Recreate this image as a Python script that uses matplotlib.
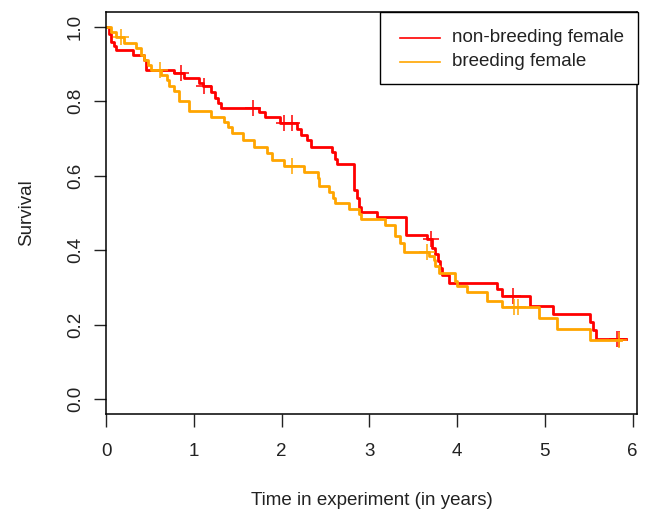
import matplotlib
matplotlib.use("Agg")
import matplotlib.pyplot as plt
from matplotlib.patches import Rectangle
from matplotlib.lines import Line2D
import numpy as np

plt.rcParams['font.family'] = ['Liberation Sans', 'DejaVu Sans']

# non-breeding female: event times (years) and survival after each step
nb_time = [0.03, 0.06, 0.09, 0.11, 0.31, 0.43, 0.46, 0.77, 0.89, 1.06, 1.10,
           1.20, 1.24, 1.28, 1.31, 1.74, 1.81, 1.98, 2.18, 2.22, 2.29, 2.34,
           2.57, 2.61, 2.63, 2.82, 2.83, 2.86, 2.88, 2.91, 3.09, 3.42, 3.66,
           3.71, 3.75, 3.78, 3.81, 3.83, 3.91, 4.46, 4.51, 4.83, 5.09, 5.52,
           5.55, 5.58]
nb_surv = [0.98, 0.96, 0.95, 0.938, 0.925, 0.91, 0.885, 0.876, 0.863, 0.85, 0.84,
           0.826, 0.81, 0.796, 0.783, 0.772, 0.759, 0.742, 0.727, 0.71, 0.697, 0.678,
           0.663, 0.645, 0.632, 0.582, 0.563, 0.54, 0.515, 0.502, 0.49, 0.44, 0.43,
           0.407, 0.389, 0.37, 0.352, 0.333, 0.311, 0.295, 0.277, 0.25, 0.228, 0.207,
           0.185, 0.161]
nb_end = 5.92
nb_cens = [0.85, 1.12, 1.67, 2.03, 2.12, 3.70, 4.64, 5.82, 5.85]

# breeding female
br_time = [0.06, 0.11, 0.21, 0.34, 0.40, 0.43, 0.48, 0.51, 0.63, 0.69, 0.72,
           0.77, 0.83, 0.95, 1.20, 1.35, 1.39, 1.43, 1.56, 1.69, 1.83, 1.89,
           2.03, 2.26, 2.41, 2.43, 2.54, 2.59, 2.61, 2.77, 2.88, 2.91, 3.18,
           3.29, 3.35, 3.39, 3.68, 3.74, 3.75, 3.79, 3.98, 4.00, 4.11, 4.34,
           4.51, 4.93, 5.14, 5.52]
br_surv = [0.987, 0.973, 0.957, 0.944, 0.925, 0.91, 0.898, 0.885, 0.871, 0.858, 0.84,
           0.828, 0.80, 0.775, 0.759, 0.745, 0.73, 0.714, 0.695, 0.676, 0.662, 0.643,
           0.625, 0.611, 0.595, 0.573, 0.557, 0.54, 0.528, 0.512, 0.496, 0.483, 0.469,
           0.437, 0.42, 0.395, 0.385, 0.375, 0.357, 0.34, 0.316, 0.303, 0.287, 0.263,
           0.247, 0.217, 0.188, 0.158]
br_end = 5.87
br_cens = [0.17, 0.61, 2.12, 3.66, 4.65, 4.69, 5.85]

labels = ["non-breeding female", "breeding female"]
colors = ["#FF0000", "#FFA500"]

W, H = 646, 511


def km_curve(times, surv, end):
    t = np.concatenate([[0.0], times, [end]])
    s = np.concatenate([[1.0], surv, [surv[-1]]])
    return t, s


def surv_at(times, surv, x):
    idx = np.searchsorted(times, x, side='right') - 1
    return 1.0 if idx < 0 else surv[idx]


def fx(px):
    return px / W


def fy(py):
    return 1 - py / H


fig = plt.figure(figsize=(6.46, 5.11), dpi=100)
ax = fig.add_axes([fx(106), fy(414), 531 / W, 402 / H])

groups = [(nb_time, nb_surv, nb_end, nb_cens), (br_time, br_surv, br_end, br_cens)]
for (tm, sv, end, cens), col, lab in zip(groups, colors, labels):
    t, s = km_curve(tm, sv, end)
    ax.step(t, s, where='post', color=col, lw=2.0, label=lab)
    cy = [surv_at(tm, sv, c) for c in cens]
    ax.plot(cens, cy, ls='none', marker='+', ms=11, mew=1.1, color=col)

ax.set_xlim(0, 6.05)
ax.set_ylim(-0.04, 1.04)
ax.set_xticks(range(0, 7))
ax.set_yticks([0.0, 0.2, 0.4, 0.6, 0.8, 1.0])
ax.set_yticklabels(["0.0", "0.2", "0.4", "0.6", "0.8", "1.0"], rotation=90, va='center')
ax.tick_params(direction='out', length=9, width=1, labelsize=13.5, colors='#222222')
ax.tick_params(axis='x', pad=12)
ax.tick_params(axis='y', pad=7)
for sp in ax.spines.values():
    sp.set_linewidth(1.1)
ax.set_xlabel("Time in experiment (in years)", fontsize=13.5, labelpad=23, color='#222222')
ax.set_ylabel("Survival", fontsize=13.5, labelpad=23, color='#222222')

# legend box in R style (top-right corner)
fig.patches.append(Rectangle((fx(380), fy(84)), 258 / W, 72 / H, transform=fig.transFigure,
                             fill=True, facecolor='white', edgecolor='black', lw=1.0, zorder=5))
for i, (lab, col) in enumerate(zip(labels, colors)):
    yy = fy(38 + 24 * i)
    fig.lines.append(Line2D([fx(400), fx(440)], [yy, yy], transform=fig.transFigure,
                            color=col, lw=1.2, zorder=6))
    fig.text(fx(452), yy, lab, fontsize=13.5, va='center', ha='left', color='#222222', zorder=6)

fig.savefig("out.png", dpi=100)
